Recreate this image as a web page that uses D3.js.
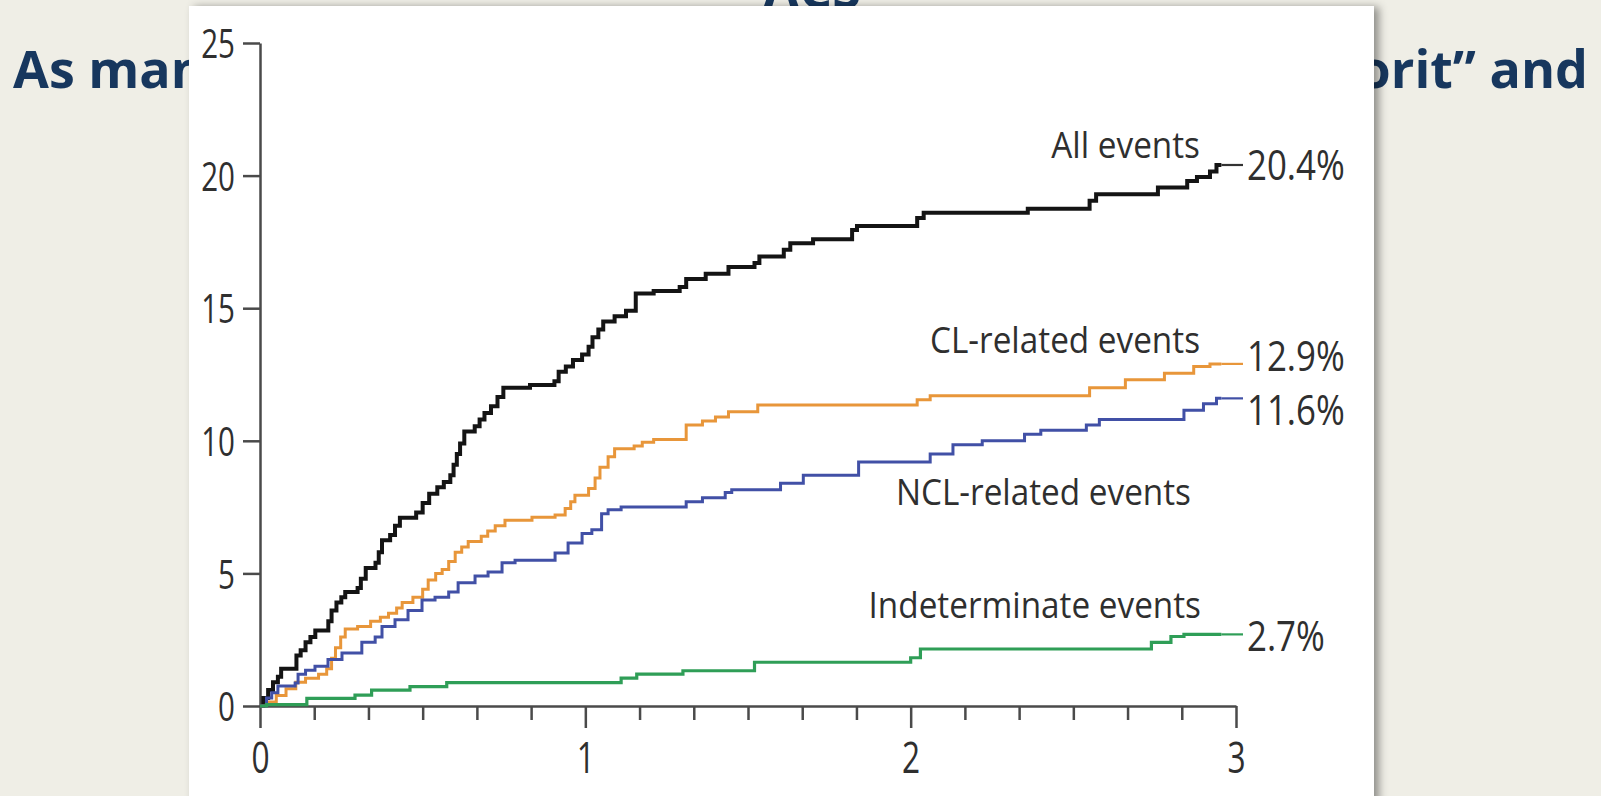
<!DOCTYPE html>
<html>
<head>
<meta charset="utf-8">
<script src="https://cdn.jsdelivr.net/npm/d3@7"></script>
<style>
  html, body { margin: 0; padding: 0; background: #efeee6; overflow: hidden; }
  svg { display: block; }
</style>
</head>
<body>
<svg id="chart" width="1601" height="796"></svg>
<script>
// ---- Data: cumulative incidence (%) by years of follow-up ----
const xTickValues = [0, 1, 2, 3];
const yTickValues = [0, 5, 10, 15, 20, 25];
const seriesNames = ["All events", "CL-related events", "NCL-related events", "Indeterminate events"];

// [year, cumulative %] at each step
const allEvents = [
  [0,0],[0.01,0.3],[0.025,0.6],[0.04,0.9],[0.055,1.1],[0.065,1.4],[0.112,1.9],[0.125,2.1],
  [0.14,2.4],[0.155,2.6],[0.17,2.85],[0.21,3.2],[0.22,3.6],[0.235,3.9],[0.25,4.1],[0.262,4.3],
  [0.3,4.45],[0.31,4.8],[0.325,5.2],[0.355,5.4],[0.365,5.8],[0.375,6.25],[0.4,6.45],[0.415,6.8],
  [0.43,7.1],[0.48,7.3],[0.5,7.65],[0.52,8.0],[0.545,8.25],[0.565,8.45],[0.585,8.7],[0.595,9.1],
  [0.605,9.5],[0.615,9.9],[0.628,10.35],[0.66,10.55],[0.675,10.8],[0.69,11.05],[0.71,11.3],
  [0.73,11.65],[0.748,12.0],[0.83,12.1],[0.905,12.25],[0.918,12.6],[0.94,12.8],[0.962,13.05],
  [0.99,13.25],[1.01,13.55],[1.022,13.9],[1.04,14.2],[1.055,14.5],[1.09,14.7],[1.125,14.9],
  [1.155,15.55],[1.21,15.65],[1.29,15.8],[1.31,16.1],[1.37,16.3],[1.44,16.55],[1.52,16.7],
  [1.535,16.95],[1.61,17.2],[1.63,17.45],[1.7,17.6],[1.82,17.95],[1.835,18.1],[2.02,18.4],
  [2.04,18.6],[2.36,18.75],[2.55,19.05],[2.57,19.3],[2.76,19.55],[2.85,19.8],[2.88,19.95],
  [2.92,20.15],[2.94,20.4],[2.955,20.4]
];
const clEvents = [
  [0,0],[0.02,0.15],[0.05,0.4],[0.08,0.65],[0.11,0.9],[0.14,1.05],[0.18,1.2],[0.205,1.4],
  [0.22,1.8],[0.232,2.2],[0.248,2.6],[0.262,2.9],[0.3,3.0],[0.34,3.2],[0.37,3.35],[0.395,3.5],
  [0.42,3.7],[0.437,3.9],[0.47,4.1],[0.5,4.4],[0.517,4.75],[0.54,5.0],[0.56,5.15],[0.58,5.45],
  [0.6,5.8],[0.62,6.0],[0.64,6.2],[0.68,6.4],[0.7,6.6],[0.723,6.8],[0.753,7.0],[0.836,7.12],
  [0.907,7.2],[0.938,7.45],[0.955,7.7],[0.968,7.95],[1.01,8.2],[1.03,8.6],[1.045,9.0],
  [1.07,9.4],[1.09,9.7],[1.15,9.8],[1.175,9.95],[1.21,10.05],[1.31,10.6],[1.36,10.75],
  [1.4,10.9],[1.44,11.1],[1.53,11.35],[2.02,11.55],[2.06,11.7],[2.55,12.0],[2.66,12.3],
  [2.78,12.55],[2.87,12.8],[2.92,12.9],[2.955,12.9]
];
const nclEvents = [
  [0,0],[0.02,0.3],[0.036,0.5],[0.055,0.75],[0.108,0.87],[0.117,1.2],[0.14,1.35],[0.169,1.5],
  [0.209,1.75],[0.252,2.0],[0.313,2.4],[0.354,2.6],[0.375,3.0],[0.415,3.25],[0.455,3.6],
  [0.498,4.0],[0.538,4.1],[0.58,4.3],[0.609,4.65],[0.661,4.9],[0.701,5.05],[0.744,5.4],
  [0.784,5.5],[0.907,5.77],[0.947,6.15],[0.99,6.5],[1.02,6.65],[1.05,7.25],[1.07,7.4],
  [1.11,7.5],[1.31,7.7],[1.36,7.85],[1.43,8.05],[1.45,8.15],[1.6,8.4],[1.67,8.7],[1.84,9.2],
  [2.06,9.5],[2.13,9.85],[2.22,10.0],[2.35,10.25],[2.4,10.4],[2.54,10.6],[2.58,10.8],
  [2.84,11.15],[2.9,11.4],[2.94,11.6],[2.955,11.6]
];
const indeterminateEvents = [
  [0,0],[0.02,0.05],[0.144,0.29],[0.292,0.41],[0.343,0.6],[0.461,0.73],[0.574,0.88],
  [1.11,1.05],[1.158,1.2],[1.3,1.33],[1.52,1.65],[2.0,1.82],[2.03,2.15],[2.74,2.4],
  [2.8,2.62],[2.84,2.7],[2.955,2.7]
];

// ---- Layout and styles ----
const W = 1601, H = 796;
const FONT = "'Open Sans', 'Noto Sans', sans-serif";
const NAVY = "#17375e";
const AXIS = "#4a4a4a";
const TEXT = "#2f2f2f";

const seriesStyle = [
  { data: allEvents,           color: "#141414", width: 4.0, label: [1200, 158], valueDy: 0 },
  { data: clEvents,            color: "#e8963a", width: 3.0, label: [1200, 353], valueDy: -8 },
  { data: nclEvents,           color: "#4150a6", width: 3.0, label: [1191, 505], valueDy: 11 },
  { data: indeterminateEvents, color: "#2f9e57", width: 3.2, label: [1201, 618], valueDy: 1 }
];

const svg = d3.select("#chart");
const defs = svg.append("defs");
const shadow = defs.append("filter").attr("id", "panelShadow")
  .attr("x", "-5%").attr("y", "-5%").attr("width", "112%").attr("height", "112%");
shadow.append("feDropShadow").attr("dx", 5).attr("dy", 1).attr("stdDeviation", 4)
  .attr("flood-color", "#000").attr("flood-opacity", 0.4);

svg.append("rect").attr("width", W).attr("height", H).attr("fill", "#efeee6");

// Slide heading behind the figure panel
const heading = svg.append("g").attr("font-family", FONT).attr("font-weight", 700)
  .attr("fill", NAVY).attr("font-size", 52);
heading.append("text").attr("x", 812).attr("y", 8).attr("text-anchor", "middle").text("ACS");
heading.append("text").attr("x", 13).attr("y", 88).text("As man");
heading.append("text").attr("x", 1588).attr("y", 88).attr("text-anchor", "end").text("“favorit” and");

// Figure panel
svg.append("rect").attr("x", 189).attr("y", 6).attr("width", 1185).attr("height", 820)
  .attr("fill", "#ffffff").attr("filter", "url(#panelShadow)");

const x = d3.scaleLinear().domain([0, 3]).range([260, 1236]);
const y = d3.scaleLinear().domain([0, 25]).range([706, 43]);

function condense(sel, k, anchorX) {
  sel.attr("transform", `scale(${k},1)`).attr("x", anchorX / k);
}

// Y axis
const yAxis = svg.append("g").attr("transform", `translate(${x(0)},0)`)
  .call(d3.axisLeft(y).tickValues(yTickValues).tickSize(17).tickSizeOuter(0).tickPadding(8));
yAxis.select(".domain").attr("stroke", AXIS).attr("stroke-width", 2.5);
yAxis.selectAll(".tick line").attr("stroke", AXIS).attr("stroke-width", 2.5);
yAxis.selectAll(".tick text").attr("font-family", FONT).attr("font-size", 41)
  .attr("fill", TEXT).attr("dy", "0.36em").call(condense, 0.72, -25);

// X axis: minor ticks every two months, major ticks each year
const minorTicks = d3.range(1, 18).filter(i => i % 6 !== 0).map(i => i / 6);
const xMinor = svg.append("g").attr("transform", `translate(0,${y(0)})`)
  .call(d3.axisBottom(x).tickValues(minorTicks).tickSize(14).tickSizeOuter(0).tickFormat(""));
xMinor.select(".domain").remove();
xMinor.selectAll(".tick line").attr("stroke", AXIS).attr("stroke-width", 2.5);

const xAxis = svg.append("g").attr("transform", `translate(0,${y(0)})`)
  .call(d3.axisBottom(x).tickValues(xTickValues).tickSize(22).tickSizeOuter(0).tickPadding(14)
    .tickFormat(d3.format("d")));
xAxis.select(".domain").attr("stroke", AXIS).attr("stroke-width", 2.5);
xAxis.selectAll(".tick line").attr("stroke", AXIS).attr("stroke-width", 2.5);
xAxis.selectAll(".tick text").attr("font-family", FONT).attr("font-size", 44)
  .attr("fill", TEXT).call(condense, 0.72, 0);

// Cumulative incidence step curves
const line = d3.line().x(d => x(d[0])).y(d => y(d[1])).curve(d3.curveStepAfter);

const plot = svg.append("g");
seriesStyle.forEach((s, i) => {
  plot.append("path").datum(s.data)
    .attr("fill", "none").attr("stroke", s.color).attr("stroke-width", s.width)
    .attr("stroke-linejoin", "miter").attr("d", line);

  const last = s.data[s.data.length - 1];
  // leader from the curve end to the final value
  plot.append("line")
    .attr("x1", x(last[0])).attr("x2", x(3) + 7)
    .attr("y1", y(last[1])).attr("y2", y(last[1]))
    .attr("stroke", i === 0 ? "#333" : s.color).attr("stroke-width", 2.2);

  plot.append("text")
    .attr("transform", `translate(${x(3) + 11},${y(last[1]) + s.valueDy}) scale(0.83,1)`)
    .attr("dy", "0.36em")
    .attr("font-family", FONT).attr("font-size", 42).attr("fill", TEXT)
    .text(`${last[1].toFixed(1)}%`);

  plot.append("text")
    .attr("transform", `translate(${s.label[0]},${s.label[1]}) scale(0.9,1)`)
    .attr("text-anchor", "end")
    .attr("font-family", FONT).attr("font-size", 37).attr("fill", TEXT)
    .text(seriesNames[i]);
});
</script>
</body>
</html>
